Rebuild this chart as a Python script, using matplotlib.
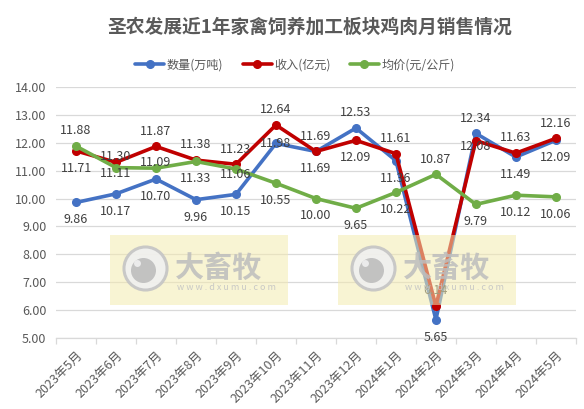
import numpy as np
import matplotlib
matplotlib.use("Agg")
import matplotlib.pyplot as plt
from matplotlib.patches import Rectangle
from matplotlib.ticker import FixedLocator, FormatStrFormatter

plt.rcParams["font.family"] = ["Noto Sans CJK SC", "DejaVu Sans"]

# data
months = ["2023年5月", "2023年6月", "2023年7月", "2023年8月", "2023年9月",
          "2023年10月", "2023年11月", "2023年12月", "2024年1月", "2024年2月",
          "2024年3月", "2024年4月", "2024年5月"]
volume = [9.86, 10.17, 10.70, 9.96, 10.15, 11.98, 11.69, 12.53, 11.36, 5.65,
          12.34, 11.49, 12.09]
revenue = [11.71, 11.30, 11.87, 11.38, 11.23, 12.64, 11.69, 12.09, 11.61, 6.14,
           12.08, 11.63, 12.16]
price = [11.88, 11.11, 11.09, 11.33, 11.06, 10.55, 10.00, 9.65, 10.22, 10.87,
         9.79, 10.12, 10.06]

series_names = ["数量(万吨)", "收入(亿元)", "均价(元/公斤)"]
colors = ["#4472C4", "#C00000", "#70AD47"]

# label placement per point: a = above, b = below, c = on the point,
# lower case = nudged only a little (up / down)
label_pos = [
    "bbbbbcbabbabb",
    "buaaaaabaadaa",
    "adubdbbbbabbb",
]
offsets = {"a": 11, "b": -12.5, "c": 0, "u": 4, "d": -4}

fig = plt.figure(figsize=(5.84, 4.09), dpi=100)
ax = fig.add_axes([0.096, 0.174, 0.890, 0.613])

x = np.arange(len(months))
handles = []
for vals, name, col, pos in zip([volume, revenue, price], series_names, colors, label_pos):
    h, = ax.plot(x, vals, color=col, lw=2.6, marker="o", ms=5.5,
                 solid_capstyle="round", label=name, zorder=3)
    handles.append(h)
    for xi, v, p in zip(x, vals, pos):
        ax.annotate(f"{v:.2f}", (xi, v), xytext=(0, offsets[p]),
                    textcoords="offset points", ha="center", va="center",
                    fontsize=9, color="#404040", zorder=4)

ax.set_xlim(-0.5, len(months) - 0.5)
ax.set_ylim(5, 14)
ax.yaxis.set_major_locator(FixedLocator(np.arange(5, 15, 1)))
ax.yaxis.set_major_formatter(FormatStrFormatter("%.2f"))
ax.grid(axis="y", color="#D9D9D9", lw=0.9, zorder=0)
ax.set_axisbelow(True)

ax.set_xticks(x)
ax.set_xticklabels(months, rotation=45, ha="right", rotation_mode="anchor")
ax.set_xticks(np.arange(-0.5, len(months), 1), minor=True)
ax.tick_params(axis="x", which="major", length=0, pad=8, labelsize=9, labelcolor="#595959")
ax.tick_params(axis="x", which="minor", length=4, color="#D9D9D9", width=0.9)
ax.tick_params(axis="y", length=0, pad=7, labelsize=9, labelcolor="#595959")

for s in ["top", "right", "left"]:
    ax.spines[s].set_visible(False)
ax.spines["bottom"].set_color("#D9D9D9")
ax.spines["bottom"].set_linewidth(0.9)

# watermarks (drawn over the plot, semi transparent)
for x0, x1 in [(0.85, 5.3), (6.55, 11.0)]:
    ax.add_patch(Rectangle((x0, 6.19), x1 - x0, 2.5, facecolor="#F3EBB0",
                           edgecolor="none", alpha=0.55, zorder=5))
    cx = x0 + 0.88
    ax.plot([cx], [7.51], marker="o", ms=31, mfc="#F0F0F0", mec="#C4C4C4",
            mew=2.2, alpha=0.9, zorder=6)
    ax.plot([cx - 0.05], [7.45], marker="o", ms=18, mfc="#BDBDBD", mec="none",
            alpha=0.9, zorder=7)
    ax.plot([cx - 0.2], [7.68], marker="o", ms=5, mfc="#F0F0F0", mec="none",
            alpha=0.9, zorder=8)
    ax.text(x0 + 1.62, 7.52, "大畜牧", fontsize=21, weight="bold",
            color="#BDBDBD", alpha=0.85, va="center", ha="left", zorder=6)
    ax.text(x0 + 1.68, 6.8, "w w w . d x u m u . c o m", fontsize=6.5,
            color="#C4C4C4", alpha=0.9, va="center", ha="left", zorder=6)

fig.text(0.53, 0.933, "圣农发展近1年家禽饲养加工板块鸡肉月销售情况", ha="center",
         va="center", fontsize=13.5, weight="bold", color="#595959")
fig.legend(handles=handles, loc="center", bbox_to_anchor=(0.505, 0.841), ncol=3,
           frameon=False, fontsize=8.7, handlelength=2.4, columnspacing=1.6,
           handletextpad=0.2, labelcolor="#595959")

fig.savefig("out.png", dpi=100)
